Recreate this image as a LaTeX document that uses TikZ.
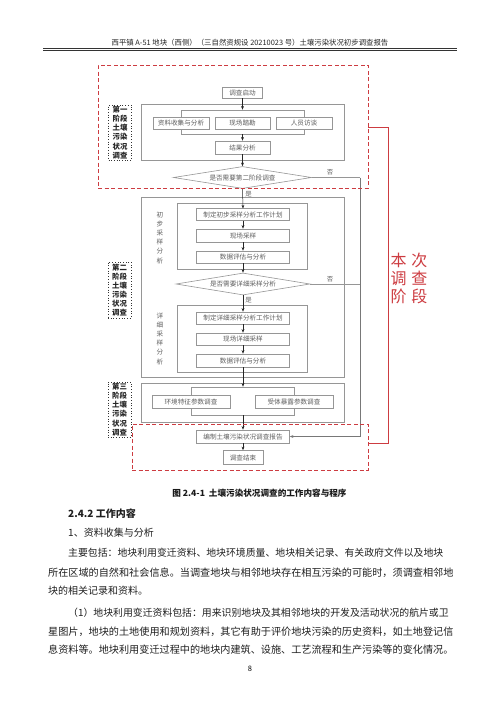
\documentclass[tikz,border=0pt]{standalone}
\usepackage{fontspec}
\setmainfont{Noto Sans CJK SC}
\usetikzlibrary{shapes.geometric,arrows.meta}
\definecolor{redline}{RGB}{205,60,65}
\definecolor{boxgray}{RGB}{150,150,150}
\definecolor{boxtext}{RGB}{95,95,95}
\begin{document}
\begin{tikzpicture}[x=1pt,y=-1pt,
  box/.style={draw=boxgray,fill=white,text=boxtext,inner sep=0pt,line width=0.6pt,
    font=\fontsize{6.6}{7}\selectfont,minimum height=12pt},
  dec/.style={diamond,aspect=6.3,draw=boxgray,fill=white,text=boxtext,inner sep=0pt,line width=0.6pt,
    font=\fontsize{6.6}{7}\selectfont,minimum width=138pt,minimum height=22pt},
  grp/.style={draw=boxgray,line width=0.6pt,inner sep=0pt},
  arr/.style={-{Stealth[length=3.6pt,width=2.8pt]},black!85,line width=0.5pt},
  ln/.style={draw=boxgray,line width=0.6pt},
  stagelbl/.style={draw=black!80,dotted,line width=0.7pt,inner sep=0pt,
    font=\fontsize{7.4}{9.1}\selectfont\bfseries,align=center,text=black!85,
    minimum width=23pt},
  vtext/.style={font=\fontsize{6.6}{9.2}\selectfont,align=center,text=boxtext,inner sep=0pt},
  yn/.style={font=\fontsize{6.4}{7}\selectfont,text=boxtext,inner sep=0pt},
  reddash/.style={draw=redline,dashed,dash pattern=on 4pt off 2.5pt,line width=0.8pt},
  body/.style={anchor=west,inner sep=0pt,font=\fontsize{10}{12}\selectfont,text=black!88},
]
\fill[white] (0,0) rectangle (500,707);
\useasboundingbox (0,0) rectangle (500,707);

% ---------- header ----------
\node[inner sep=0pt,font=\fontsize{7.4}{8}\selectfont,text=black!85] (hdr) at (250,43)
  {西平镇 A-51 地块（西侧）（三自然资规设 20210023 号）土壤污染状况初步调查报告};
\draw[line width=1.3pt,black!80] (43,48.6) -- (457,48.6);
\draw[line width=0.4pt,black!80] (43,50.6) -- (457,50.6);

% ---------- stage 1 ----------
\node[grp,minimum width=203pt,minimum height=56pt] (g1) at (242.5,132) {};
\node[grp,minimum width=123pt,minimum height=24pt] (br1) at (242.5,122) {};
\node[box,minimum width=40pt,minimum height=11pt] (start) at (242.5,92.5) {调查启动};
\node[box,minimum width=56pt] (s1a) at (181,123) {资料收集与分析};
\node[box,minimum width=55pt] (s1b) at (242.5,123) {现场踏勘};
\node[box,minimum width=56pt] (s1c) at (304,123) {人员访谈};
\node[box,minimum width=55pt,minimum height=13pt] (res) at (242.5,147.5) {结果分析};
\node[dec] (d1) at (242.5,177.5) {是否需要第二阶段调查};
\draw[arr] (start.south) -- (br1.north);
\draw[arr] (br1.south) -- (res.north);
\draw[arr] (res.south) -- (d1.north);

% ---------- stage 2 ----------
\node[grp,minimum width=203pt,minimum height=180pt] (g2) at (242.5,287) {};
\node[grp,minimum width=130pt,minimum height=66pt] (in1) at (242,236) {};
\node[grp,minimum width=130pt,minimum height=67pt] (in2) at (242,338.5) {};
\node[vtext] (v1) at (160,237.5) {初\\步\\采\\样\\分\\析};
\node[vtext] (v2) at (160,338.5) {详\\细\\采\\样\\分\\析};
\node[box,minimum width=93pt,minimum height=11.5pt] (p1) at (243,214.5) {制定初步采样分析工作计划};
\node[box,minimum width=93pt,minimum height=13pt] (p2) at (243,235.5) {现场采样};
\node[box,minimum width=93pt] (p3) at (243,257) {数据评估与分析};
\node[dec,minimum width=134pt] (d2) at (243,284) {是否需要详细采样分析};
\node[box,minimum width=93pt] (q1) at (243,318) {制定详细采样分析工作计划};
\node[box,minimum width=93pt] (q2) at (243,339) {现场详细采样};
\node[box,minimum width=93pt,minimum height=13pt] (q3) at (243,360.5) {数据评估与分析};
\draw[arr] (d1.south) -- (p1.north);
\draw[arr] (p1.south) -- (p2.north);
\draw[arr] (p2.south) -- (p3.north);
\draw[arr] (p3.south) -- (d2.north);
\draw[arr] (d2.south) -- (q1.north);
\draw[arr] (q1.south) -- (q2.north);
\draw[arr] (q2.south) -- (q3.north);

% ---------- stage 3 ----------
\node[grp,minimum width=203pt,minimum height=39pt] (g3) at (242.5,402.5) {};
\node[grp,minimum width=103pt,minimum height=28pt] (br3) at (243,401) {};
\node[box,minimum width=78pt,minimum height=13pt] (e1) at (191,401.5) {环境特征参数调查};
\node[box,minimum width=78pt,minimum height=13pt] (e2) at (294,401.5) {受体暴露参数调查};
\draw[arr] (q3.south) -- (br3.north);
\node[box,minimum width=93pt,minimum height=13pt] (rep) at (243,436.5) {编制土壤污染状况调查报告};
\node[box,minimum width=40pt,minimum height=14pt] (fin) at (243,457.5) {调查结束};
\draw[arr] (br3.south) -- (rep.north);
\draw[arr] (rep.south) -- (fin.north);

% ---------- "no" branches ----------
\coordinate (nx1) at (360,177.5);
\coordinate (nx2) at (360,284);
\coordinate (nx3) at (360,436.5);
\draw[ln] (d1.east) -- (nx1);
\draw[ln] (d2.east) -- (nx2);
\draw[arr,boxgray!80!black] (nx1) -- (nx3) -- (rep.east);
\node[yn] (no1) at (330,172) {否};
\node[yn] (no2) at (330,279) {否};
\node[yn] (yes1) at (248.5,194) {是};
\node[yn] (yes2) at (248.5,300) {是};

% ---------- stage labels ----------
\node[stagelbl,minimum height=55pt] (L1) at (120,132.5) {第一\\阶段\\土壤\\污染\\状况\\调查};
\node[stagelbl,minimum height=56pt] (L2) at (119.5,290) {第二\\阶段\\土壤\\污染\\状况\\调查};
\node[stagelbl,minimum height=55pt] (L3) at (119.5,409.5) {第三\\阶段\\土壤\\污染\\状况\\调查};

% ---------- red frames ----------
\node[reddash,minimum width=270pt,minimum height=123pt,inner sep=0pt] (r1) at (233,126.5) {};
\node[reddash,minimum width=236pt,minimum height=46pt,inner sep=0pt] (r2) at (250,447) {};
\coordinate (rc1) at (388,127);
\coordinate (rc2) at (388,443);
\draw[redline,line width=0.9pt] (r1.east |- rc1) -- (rc1) -- (rc2) -- (r2.east |- rc2);
\node[text=redline,inner sep=0pt,align=center,font=\fontsize{16}{18}\selectfont] (rt) at (409,278)
  {本\hspace{5pt}次\\调\hspace{5pt}查\\阶\hspace{5pt}段};

% ---------- caption ----------
\node[inner sep=0pt,font=\fontsize{8.6}{10}\selectfont\bfseries,text=black!90] (cap) at (259.5,493)
  {图 2.4-1\hspace{4pt}土壤污染状况调查的工作内容与程序};

% ---------- body text ----------
\node[body,font=\fontsize{10}{12}\selectfont\bfseries] (t0) at (68,514) {2.4.2 工作内容};
\node[body] (t1) at (68,533) {1、资料收集与分析};
\node[body,font=\fontsize{9.87}{12}\selectfont] (t2) at (68,553) {主要包括：地块利用变迁资料、地块环境质量、地块相关记录、有关政府文件以及地块};
\node[body,font=\fontsize{10.13}{12}\selectfont] (t3) at (48,573) {所在区域的自然和社会信息。当调查地块与相邻地块存在相互污染的可能时，须调查相邻地};
\node[body] (t4) at (48,591) {块的相关记录和资料。};
\node[body,font=\fontsize{9.87}{12}\selectfont] (t5) at (68,613) {（1）地块利用变迁资料包括：用来识别地块及其相邻地块的开发及活动状况的航片或卫};
\node[body,font=\fontsize{10.13}{12}\selectfont] (t6) at (48,632) {星图片，地块的土地使用和规划资料，其它有助于评价地块污染的历史资料，如土地登记信};
\node[body,font=\fontsize{10.13}{12}\selectfont] (t7) at (48,650) {息资料等。地块利用变迁过程中的地块内建筑、设施、工艺流程和生产污染等的变化情况。};
\node[inner sep=0pt,font=\fontsize{7.5}{8}\selectfont] (pg) at (250,669) {8};
\end{tikzpicture}
\end{document}
